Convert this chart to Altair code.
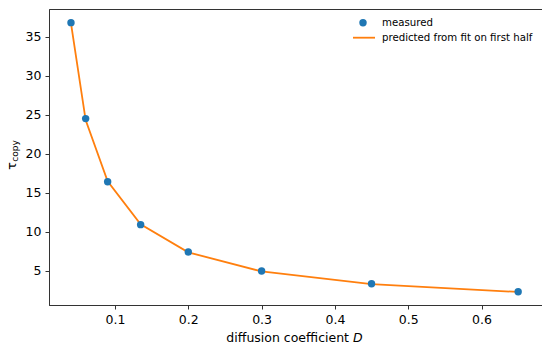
import altair as alt
import pandas as pd

D = [0.04, 0.06, 0.09, 0.135, 0.2, 0.3, 0.45, 0.65]
measured = [36.8, 24.5, 16.4, 10.9, 7.4, 4.95, 3.33, 2.3]
predicted = [36.7, 24.3, 16.45, 10.95, 7.35, 4.9, 3.28, 2.27]

x_ticks = [0.1, 0.2, 0.3, 0.4, 0.5, 0.6]
y_ticks = [5, 10, 15, 20, 25, 30, 35]

BLUE = "#1f77b4"
ORANGE = "#ff7f0e"
FONT = "DejaVu Sans"

df = pd.DataFrame({"D": D, "measured": measured, "predicted": predicted})
one = pd.DataFrame({"k": [0]})

xs = alt.Scale(domain=[0.01, 0.6825], nice=False, zero=False)
ys = alt.Scale(domain=[0.6, 38.55], nice=False, zero=False)

xax = alt.Axis(values=x_ticks, format=".1f", title=None, grid=False,
               tickSize=4, labelPadding=4, labelFontSize=12.5, labelFont=FONT,
               labelColor="#000", domainColor="#333", tickColor="#333")
yax = alt.Axis(values=y_ticks, format="d", title=None, grid=False,
               tickSize=4, labelPadding=4, labelFontSize=12.5, labelFont=FONT,
               labelColor="#000", domainColor="#333", tickColor="#333")

base = alt.Chart(df)

line = base.mark_line(color=ORANGE, strokeWidth=1.8).encode(
    x=alt.X("D:Q", scale=xs, axis=xax),
    y=alt.Y("predicted:Q", scale=ys, axis=yax),
)
pts = base.mark_circle(color=BLUE, size=55, opacity=1).encode(
    x=alt.X("D:Q", scale=xs),
    y=alt.Y("measured:Q", scale=ys),
)

t = alt.Chart(one)
# legend
leg_pt = t.mark_circle(color=BLUE, size=55, opacity=1).encode(
    x=alt.value(314), y=alt.value(13.7))
leg_line = t.mark_rule(color=ORANGE, strokeWidth=1.8).encode(
    x=alt.value(304), x2=alt.value(326), y=alt.value(28.7))
leg_t1 = t.mark_text(text="measured", align="left", baseline="middle",
                     font=FONT, fontSize=10.2, color="#000").encode(
    x=alt.value(333), y=alt.value(13.7))
leg_t2 = t.mark_text(text="predicted from fit on first half", align="left",
                     baseline="middle", font=FONT, fontSize=10.2, color="#000").encode(
    x=alt.value(333), y=alt.value(28.7))

# axis titles
xt1 = t.mark_text(text="diffusion coefficient", align="right", baseline="middle",
                  font=FONT, fontSize=12.5, color="#000").encode(
    x=alt.value(300), y=alt.value(329))
xt2 = t.mark_text(text="D", align="left", baseline="middle", font=FONT,
                  fontSize=12.5, fontStyle="italic", color="#000").encode(
    x=alt.value(304), y=alt.value(329))
yt1 = t.mark_text(text="τ", align="center", baseline="middle", font=FONT,
                  fontSize=13, angle=270, color="#000").encode(
    x=alt.value(-37.5), y=alt.value(157))
yt2 = t.mark_text(text="copy", align="center", baseline="middle", font=FONT,
                  fontSize=9, angle=270, color="#000").encode(
    x=alt.value(-34), y=alt.value(142))

chart = alt.layer(line, pts, leg_pt, leg_line, leg_t1, leg_t2, xt1, xt2, yt1, yt2).properties(
    width=493, height=296,
    autosize=alt.AutoSizeParams(type="none"),
    padding={"left": 41, "top": 1, "right": 0, "bottom": 40},
).configure_view(stroke="#333", strokeWidth=1)

chart.save("out.html", embed_options={"renderer": "svg", "actions": False})
